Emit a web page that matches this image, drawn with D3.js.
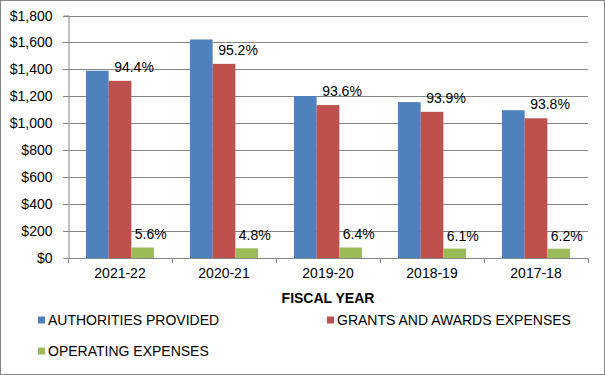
<!DOCTYPE html>
<html>
<head>
<meta charset="utf-8">
<script src="https://cdn.jsdelivr.net/npm/d3@7"></script>
<style>
  html, body { margin: 0; padding: 0; background: #fff; }
  svg { display: block; font-family: 'Liberation Sans', Arial, sans-serif; }
</style>
</head>
<body>
<div id="chart"></div>
<script>
const years = ['2021-22', '2020-21', '2019-20', '2018-19', '2017-18']
const authorities = [1390, 1622, 1202, 1157, 1097]
const grants = [1315, 1441, 1135, 1085, 1037]
const operating = [78, 72, 78, 70, 69]
const grantsPct = ['94.4%', '95.2%', '93.6%', '93.9%', '93.8%']
const operatingPct = ['5.6%', '4.8%', '6.4%', '6.1%', '6.2%']
const yTicks = [0, 200, 400, 600, 800, 1000, 1200, 1400, 1600, 1800]

const series = [
  { id: 'auth', name: 'AUTHORITIES PROVIDED', values: authorities, color: '#4F81BD' },
  { id: 'grants', name: 'GRANTS AND AWARDS EXPENSES', values: grants, color: '#C0504D' },
  { id: 'oper', name: 'OPERATING EXPENSES', values: operating, color: '#9BBB59' }
]

const width = 605, height = 375
const margin = { top: 15.5, right: 17, bottom: 117, left: 68 }
const grid = '#868686'
const fs = 14

const svg = d3.select('#chart')
  .append('svg')
  .attr('width', width)
  .attr('height', height)

// outer border
svg.append('rect')
  .attr('x', 0.5).attr('y', 0.5)
  .attr('width', width - 1).attr('height', height - 1)
  .attr('fill', '#fff')
  .attr('stroke', '#868686')

const x0 = d3.scaleBand()
  .domain(years)
  .range([margin.left, width - margin.right])
  .padding(0)

const x1 = d3.scaleBand()
  .domain(series.map(s => s.id))
  .range([0, x0.bandwidth()])
  .paddingInner(0)
  .paddingOuter(0.79)

const y = d3.scaleLinear()
  .domain([0, 1800])
  .range([height - margin.bottom, margin.top])

// gridlines
svg.append('g')
  .selectAll('line')
  .data(yTicks.filter(d => d > 0))
  .join('line')
  .attr('x1', margin.left - 5)
  .attr('x2', width - margin.right)
  .attr('y1', d => Math.round(y(d)) + 0.5)
  .attr('y2', d => Math.round(y(d)) + 0.5)
  .attr('stroke', grid)

// Y axis
const yAxis = svg.append('g')
  .attr('transform', `translate(${margin.left + 0.5},0)`)
  .call(d3.axisLeft(y).tickValues(yTicks).tickSize(5).tickPadding(11)
    .tickFormat(d => '$' + d3.format(',')(d)))
yAxis.select('.domain').attr('stroke', grid)
yAxis.selectAll('.tick line').attr('stroke', grid)
yAxis.selectAll('.tick').attr('transform', d => `translate(0,${Math.round(y(d)) + 0.5})`)
yAxis.selectAll('text').attr('font-size', fs).attr('fill', '#000')
  .attr('font-family', "'Liberation Sans', Arial, sans-serif")

// bars
const groups = svg.append('g')
  .selectAll('g')
  .data(years)
  .join('g')
  .attr('transform', d => `translate(${x0(d)},0)`)

groups.selectAll('rect')
  .data((d, i) => series.map(s => ({ id: s.id, color: s.color, value: s.values[i] })))
  .join('rect')
  .attr('x', d => x1(d.id))
  .attr('width', x1.bandwidth())
  .attr('y', d => y(d.value))
  .attr('height', d => y(0) - y(d.value))
  .attr('fill', d => d.color)

// X axis
const xAxis = svg.append('g')
  .attr('transform', `translate(0,${Math.round(y(0)) + 0.5})`)
  .call(d3.axisBottom(x0).tickSize(0).tickPadding(10))
xAxis.select('.domain').attr('stroke', grid).attr('d', `M${margin.left},0H${width - margin.right}`)
xAxis.selectAll('text').attr('font-size', fs).attr('fill', '#000')
  .attr('font-family', "'Liberation Sans', Arial, sans-serif")

svg.append('g')
  .selectAll('line')
  .data(years.map(d => x0(d)).concat([width - margin.right]))
  .join('line')
  .attr('x1', d => Math.round(d) + 0.5)
  .attr('x2', d => Math.round(d) + 0.5)
  .attr('y1', Math.round(y(0)))
  .attr('y2', Math.round(y(0)) + 5)
  .attr('stroke', grid)

// percentage labels
const labels = svg.append('g')
  .attr('font-size', fs)
  .attr('text-anchor', 'middle')
  .attr('dominant-baseline', 'central')
  .attr('fill', '#000')

labels.selectAll('text.g')
  .data(years)
  .join('text')
  .attr('class', 'g')
  .attr('x', (d, i) => x0(d) + x1('grants') + x1.bandwidth() / 2 + 14)
  .attr('y', (d, i) => y(grants[i]) - 14)
  .text((d, i) => grantsPct[i])

labels.selectAll('text.o')
  .data(years)
  .join('text')
  .attr('class', 'o')
  .attr('x', (d, i) => x0(d) + x1('oper') + x1.bandwidth() / 2 + 8)
  .attr('y', (d, i) => y(operating[i]) - 13)
  .text((d, i) => operatingPct[i])

// axis title
svg.append('text')
  .attr('x', (margin.left + width - margin.right) / 2)
  .attr('y', 298)
  .attr('dominant-baseline', 'central')
  .attr('text-anchor', 'middle')
  .attr('font-size', fs)
  .attr('font-weight', 'bold')
  .text('FISCAL YEAR')

// legend
const legendPos = [[38, 320], [327, 320], [38, 351]]
const legend = svg.append('g')
  .selectAll('g')
  .data(series)
  .join('g')
  .attr('transform', (d, i) => `translate(${legendPos[i][0]},${legendPos[i][1]})`)

legend.append('rect')
  .attr('x', 0).attr('y', -3.5)
  .attr('width', 7).attr('height', 7)
  .attr('fill', d => d.color)

legend.append('text')
  .attr('x', 10)
  .attr('dominant-baseline', 'central')
  .attr('font-size', fs)
  .text(d => d.name)
</script>
</body>
</html>
